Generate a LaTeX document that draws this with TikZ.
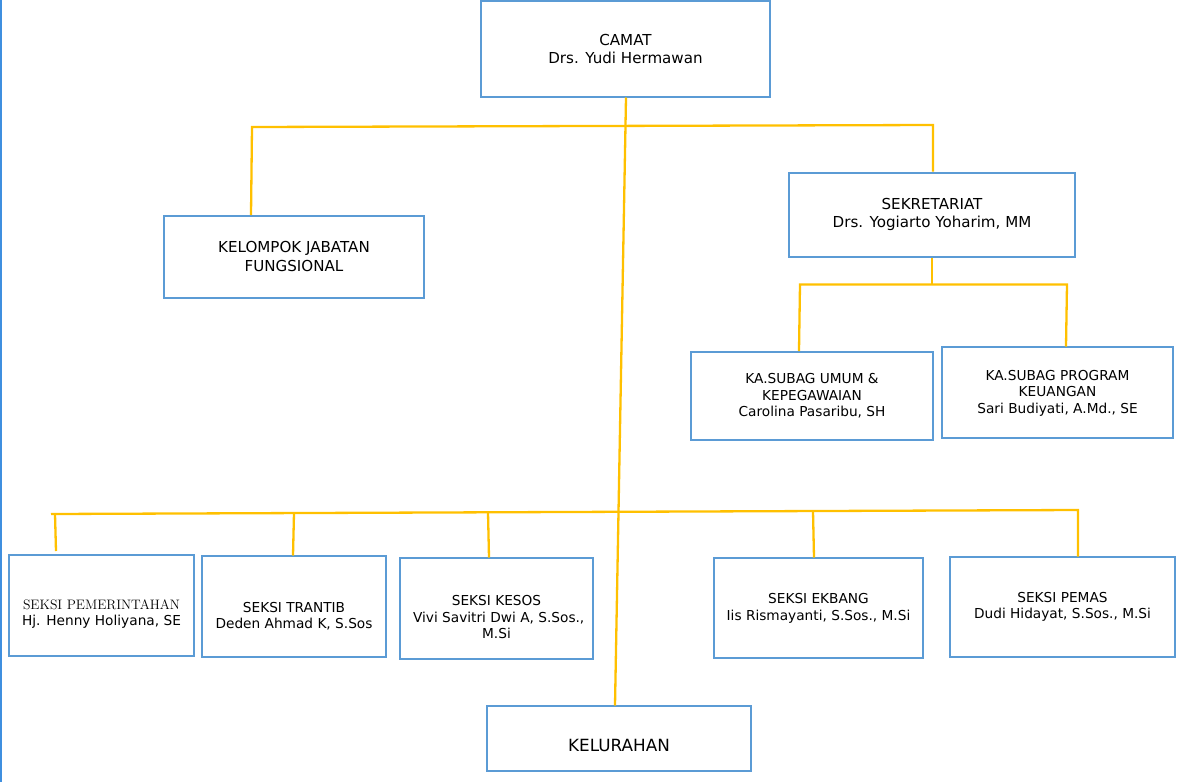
\documentclass[tikz,border=0pt]{standalone}
\usepackage{fontspec}
\setsansfont{DejaVu Sans}
\usetikzlibrary{calc}
\definecolor{boxblue}{HTML}{5B9BD5}
\definecolor{edgeblue}{HTML}{3F8FDF}
\definecolor{linkgold}{HTML}{FFC000}
\begin{document}
\begin{tikzpicture}[x=1pt,y=-1pt,
  box/.style={draw=boxblue, line width=1.4pt, inner sep=0pt},
  bigtxt/.style={align=center, inner sep=0pt, font=\sffamily\fontsize{15.1}{18.5}\selectfont},
  smalltxt/.style={align=center, inner sep=0pt, font=\sffamily\fontsize{13.7}{16.5}\selectfont},
  link/.style={draw=linkgold, line width=2.3pt}]
\useasboundingbox (0,0) rectangle (1184,782);
% page edge
\draw[edgeblue, line width=1.5pt] (0.75,0) -- (0.75,782);

% boxes
\node[box, minimum width=289pt, minimum height=96pt] (camat) at (625.5,49) {};
\node[box, minimum width=260pt, minimum height=82pt] (kjf) at (294,257) {};
\node[box, minimum width=286pt, minimum height=84pt] (sekr) at (932,215) {};
\node[box, minimum width=242pt, minimum height=88pt] (umum) at (812,396) {};
\node[box, minimum width=231pt, minimum height=91pt] (prog) at (1057.5,392.5) {};
\node[box, minimum width=185pt, minimum height=101pt] (pem) at (101.5,605.5) {};
\node[box, minimum width=184pt, minimum height=101pt] (trantib) at (294,606.5) {};
\node[box, minimum width=193pt, minimum height=101pt] (kesos) at (496.5,608.5) {};
\node[box, minimum width=209pt, minimum height=100pt] (ekbang) at (818.5,608) {};
\node[box, minimum width=225pt, minimum height=100pt] (pemas) at (1062.5,607) {};
\node[box, minimum width=264pt, minimum height=65pt] (kel) at (619,738.5) {};

% labels
\node[bigtxt] (camat-t) at (625.5,49) {CAMAT\\Drs. Yudi Hermawan};
\node[bigtxt] (kjf-t) at (294,256.5) {KELOMPOK JABATAN\\FUNGSIONAL};
\node[bigtxt] (sekr-t) at (932,214.5) {SEKRETARIAT\\Drs. Yogiarto Yoharim, MM};
\node[smalltxt] (umum-t) at (812,396) {KA.SUBAG UMUM \&\\KEPEGAWAIAN\\Carolina Pasaribu, SH};
\node[smalltxt] (prog-t) at (1057.5,393) {KA.SUBAG PROGRAM\\KEUANGAN\\Sari Budiyati, A.Md., SE};
\node[smalltxt] (pem-t) at (101.5,614) {{\rmfamily SEKSI PEMERINTAHAN}\\Hj. Henny Holiyana, SE};
\node[smalltxt] (trantib-t) at (294,616) {SEKSI TRANTIB\\Deden Ahmad K, S.Sos};
\node[smalltxt] (kesos-t) at (496.5,617.5) {SEKSI KESOS\\\ Vivi Savitri Dwi A, S.Sos.,\\M.Si};
\node[smalltxt] (ekbang-t) at (818.5,608.5) {SEKSI EKBANG\\Iis Rismayanti, S.Sos., M.Si};
\node[smalltxt] (pemas-t) at (1062.5,607) {SEKSI PEMAS\\Dudi Hidayat, S.Sos., M.Si};
\node[bigtxt, font=\sffamily\fontsize{16.8}{19}\selectfont] (kel-t) at (619,745) {KELURAHAN};

% connector points
\coordinate (camat-out) at (626,97.5);
\coordinate (kel-in) at (615,705.5);
\coordinate (top-l) at (252,127);
\coordinate (top-r) at (933,125);
\coordinate (kjf-in) at (251,215);
\coordinate (sekr-in) at (933,171.5);
\coordinate (sekr-out) at (932,257.5);
\coordinate (sub-m) at (932,284.5);
\coordinate (sub-l) at (800,284.5);
\coordinate (sub-r) at (1067,284.5);
\coordinate (umum-in) at (799,351);
\coordinate (prog-in) at (1066,346.5);
\coordinate (bar-l) at (51,514);
\coordinate (bar-r) at (1078,510);
\coordinate (pem-j) at (55,514);
\coordinate (pem-in) at (56,551);
\coordinate (trantib-j) at (294,513.05);
\coordinate (trantib-in) at (293,555.5);
\coordinate (kesos-j) at (488,512.3);
\coordinate (kesos-in) at (489,557.5);
\coordinate (ekbang-j) at (813,511.03);
\coordinate (ekbang-in) at (814,557.5);
\coordinate (pemas-in) at (1078,556.5);

% connectors
\draw[link] (camat-out) -- (kel-in);
\draw[link] (kjf-in) -- (top-l) -- (top-r) -- (sekr-in);
\draw[link] (sekr-out) -- (sub-m);
\draw[link] (umum-in) -- (sub-l) -- (sub-r) -- (prog-in);
\draw[link] (bar-l) -- (bar-r) -- (pemas-in);
\draw[link] (pem-j) -- (pem-in);
\draw[link] (trantib-j) -- (trantib-in);
\draw[link] (kesos-j) -- (kesos-in);
\draw[link] (ekbang-j) -- (ekbang-in);
\end{tikzpicture}
\end{document}
